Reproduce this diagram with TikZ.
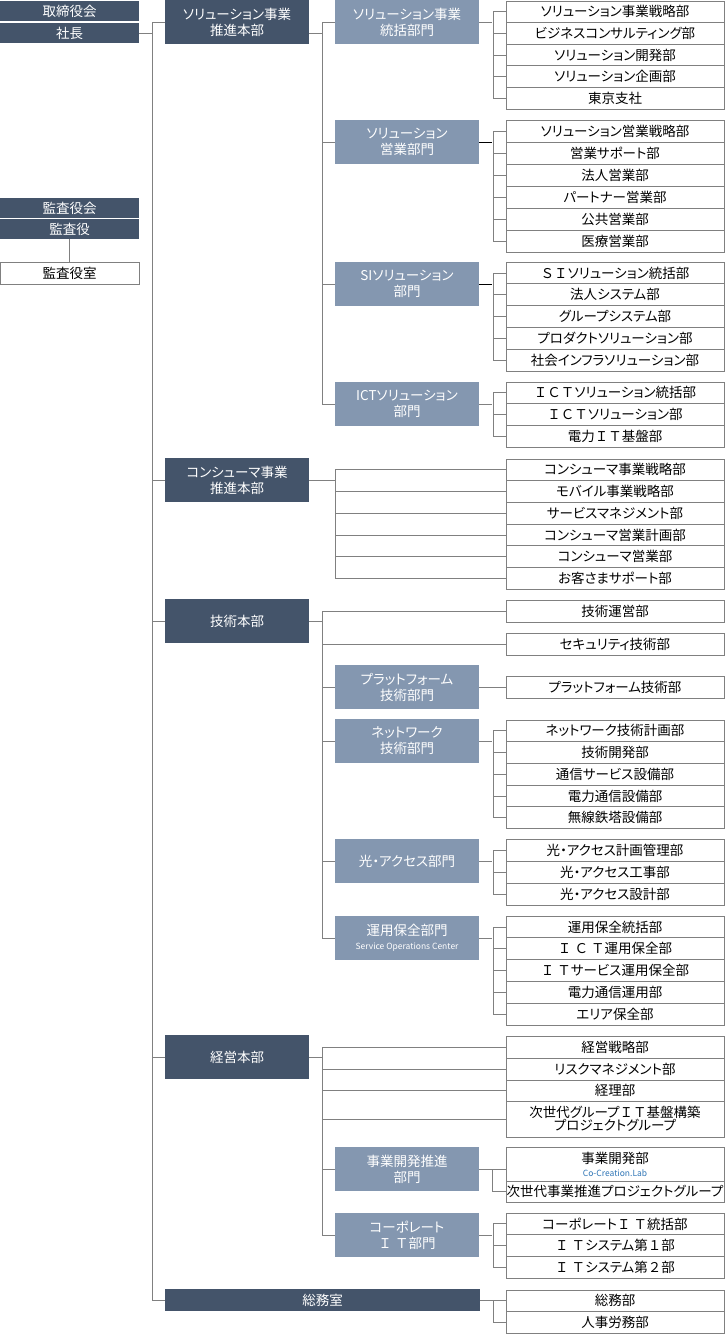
\documentclass[tikz,border=0pt]{standalone}
\usepackage{fontspec}
\setmainfont{Noto Sans CJK JP}[RawFeature=+palt]
\newfontfamily\fwfont{Noto Sans CJK JP}
\definecolor{darkbg}{HTML}{44546A}
\definecolor{lightbg}{HTML}{8497B0}
\definecolor{linegray}{HTML}{808080}
\definecolor{labblue}{HTML}{2E75B6}
\tikzset{
  base/.style={anchor=north west, inner sep=0pt, outer sep=0pt, align=center,
    font=\fontsize{13.5}{16}\selectfont},
  dk/.style={base, fill=darkbg, text=white},
  lt/.style={base, fill=lightbg, text=white},
  wt/.style={base, fill=white, draw=linegray, line width=0.8pt, text=black},
  conn/.style={draw=linegray, line width=0.8pt},
}
\newcommand\obox[7]{\node[#2, minimum width={#5-#3}, minimum height={#6-#4}] (#1) at (#3,#4) {#7};}
\newcommand\rbox[4]{\obox{#1}{wt}{506}{#2}{724}{#3}{#4}}
\newcommand\lbox[3]{\node[lt, minimum width=144, minimum height=44] (#1) at (335,#2) {#3};}
\newcommand\dbox[3]{\node[dk, minimum width=144, minimum height=44] (#1) at (165,#2) {#3};}
\newcommand\brk[5][linegray]{%
  \draw[conn, draw=#1] (#2.east) -- ++(13,0);
  \draw[conn] (#3.west) -- ++(-13,0) -- ([xshift=-13pt]#4.west) -- (#4.west);
  \foreach \n in {#5} {\draw[conn] (\n.west) -- ++(-13,0);}}
\begin{document}
\begin{tikzpicture}[x=1pt, y=-1pt]
\useasboundingbox (0,0) rectangle (725,1335);
% left column
\obox{board}{dk}{0}{1}{139}{21}{取締役会}
\obox{pres}{dk}{0}{23}{139}{43}{社長}
\obox{audb}{dk}{0}{198}{139}{218}{監査役会}
\obox{aud}{dk}{0}{219}{139}{239}{監査役}
\obox{audo}{wt}{0}{262}{139}{284}{監査役室}
\draw[conn] (aud.south) -- (audo.north);
\draw[conn] (pres.east) -- ++(13,0);

% ===== Solution =====
\dbox{D1}{0}{ソリューション事業\\推進本部}
\lbox{L1}{0}{ソリューション事業\\統括部門}
\lbox{L2}{120}{ソリューション\\営業部門}
\lbox{L3}{262}{SIソリューション\\部門}
\lbox{L4}{382}{ICTソリューション\\部門}
\draw[conn] ([yshift=-11pt]D1.east) -- ++(13,0);
\draw[conn] (L1.west) -- ++(-13,0) -- ([xshift=-13pt]L4.west) -- (L4.west);
\foreach \n in {L2,L3} {\draw[conn] (\n.west) -- ++(-13,0);}

\rbox{a1}{1}{22.6}{ソリューション事業戦略部}
\rbox{a2}{22.6}{44.2}{ビジネスコンサルティング部}
\rbox{a3}{44.2}{65.8}{ソリューション開発部}
\rbox{a4}{65.8}{87.4}{ソリューション企画部}
\rbox{a5}{87.4}{109}{東京支社}
\brk{L1}{a1}{a5}{a2,a3,a4}

\rbox{b1}{120}{142}{ソリューション営業戦略部}
\rbox{b2}{142}{164}{営業サポート部}
\rbox{b3}{164}{186}{法人営業部}
\rbox{b4}{186}{208}{パートナー営業部}
\rbox{b5}{208}{230}{公共営業部}
\rbox{b6}{230}{252}{医療営業部}
\brk[black]{L2}{b1}{b6}{b2,b3,b4,b5}

\rbox{s1}{262}{283.8}{{\fwfont ＳＩ}ソリューション統括部}
\rbox{s2}{283.8}{305.6}{法人システム部}
\rbox{s3}{305.6}{327.4}{グループシステム部}
\rbox{s4}{327.4}{349.2}{プロダクトソリューション部}
\rbox{s5}{349.2}{371}{社会インフラソリューション部}
\brk[black]{L3}{s1}{s5}{s2,s3,s4}

\rbox{i1}{382}{403.7}{{\fwfont ＩＣＴ}ソリューション統括部}
\rbox{i2}{403.7}{425.4}{{\fwfont ＩＣＴ}ソリューション部}
\rbox{i3}{425.4}{447}{電力{\fwfont ＩＴ}基盤部}
\brk{L4}{i1}{i3}{i2}

% ===== Consumer =====
\dbox{D2}{458}{コンシューマ事業\\推進本部}
\rbox{k1}{459}{480.7}{コンシューマ事業戦略部}
\rbox{k2}{480.7}{502.4}{モバイル事業戦略部}
\rbox{k3}{502.4}{524.1}{サービスマネジメント部}
\rbox{k4}{524.1}{545.8}{コンシューマ営業計画部}
\rbox{k5}{545.8}{567.5}{コンシューマ営業部}
\rbox{k6}{567.5}{589.2}{お客さまサポート部}
\draw[conn] (D2.east) -- ++(26,0);
\draw[conn] ([xshift=-171pt]k1.west) -- ([xshift=-171pt]k6.west);
\foreach \n in {k1,k2,k3,k4,k5,k6} {\draw[conn] (\n.west) -- ++(-171,0);}

% ===== Technology =====
\dbox{D3}{599}{技術本部}
\draw[conn] (D3.east) -- ++(13,0);
\rbox{c1}{600}{622}{技術運営部}
\rbox{c2}{633}{655}{セキュリティ技術部}
\lbox{L5}{665}{プラットフォーム\\技術部門}
\lbox{L6}{719}{ネットワーク\\技術部門}
\lbox{L7}{839}{光・アクセス部門}
\lbox{L8}{916}{運用保全部門\\[-2pt]{\fontsize{8.5}{10}\selectfont Service Operations Center}}
\draw[conn] (c1.west) -- ++(-184,0) -- ([xshift=-13pt]L8.west) -- (L8.west);
\draw[conn] (c2.west) -- ++(-184,0);
\foreach \n in {L5,L6,L7} {\draw[conn] (\n.west) -- ++(-13,0);}

\rbox{p1}{676}{698}{プラットフォーム技術部}
\draw[conn] (L5.east) -- (p1.west);

\rbox{n1}{720}{741.7}{ネットワーク技術計画部}
\rbox{n2}{741.7}{763.4}{技術開発部}
\rbox{n3}{763.4}{785.1}{通信サービス設備部}
\rbox{n4}{785.1}{806.8}{電力通信設備部}
\rbox{n5}{806.8}{828.5}{無線鉄塔設備部}
\brk{L6}{n1}{n5}{n2,n3,n4}

\rbox{h1}{839}{861}{光・アクセス計画管理部}
\rbox{h2}{861}{883}{光・アクセス工事部}
\rbox{h3}{883}{905}{光・アクセス設計部}
\brk{L7}{h1}{h3}{h2}

\rbox{u1}{916}{937.8}{運用保全統括部}
\rbox{u2}{937.8}{959.6}{{\fwfont Ｉ Ｃ Ｔ}運用保全部}
\rbox{u3}{959.6}{981.4}{{\fwfont Ｉ Ｔ}サービス運用保全部}
\rbox{u4}{981.4}{1003.2}{電力通信運用部}
\rbox{u5}{1003.2}{1025}{エリア保全部}
\brk{L8}{u1}{u5}{u2,u3,u4}

% ===== Management =====
\dbox{D4}{1035}{経営本部}
\draw[conn] (D4.east) -- ++(13,0);
\rbox{e1}{1036}{1058}{経営戦略部}
\rbox{e2}{1058}{1080}{リスクマネジメント部}
\rbox{e3}{1080}{1101}{経理部}
\rbox{e4}{1101}{1137}{次世代グループ{\fwfont ＩＴ}基盤構築\\[-3pt]プロジェクトグループ}
\lbox{L9}{1147}{事業開発推進\\部門}
\lbox{L10}{1213}{コーポレート\\{\fwfont Ｉ Ｔ}部門}
\draw[conn] (e1.west) -- ++(-184,0) -- ([xshift=-13pt]L10.west) -- (L10.west);
\foreach \n in {e2,e3,e4} {\draw[conn] (\n.west) -- ++(-184,0);}
\draw[conn] (L9.west) -- ++(-13,0);

\rbox{f1}{1147}{1181}{事業開発部\\[-3pt]{\fontsize{8.5}{10}\selectfont\color{labblue}Co-Creation.Lab}}
\rbox{f2}{1181}{1202}{次世代事業推進プロジェクトグループ}
\draw[conn] (L9.east) -- (L9.east -| f1.west);
\draw[conn] (L9.east) ++(13,0) |- (f2.west);

\rbox{r1}{1213}{1234.7}{コーポレート{\fwfont Ｉ Ｔ}統括部}
\rbox{r2}{1234.7}{1256.4}{{\fwfont Ｉ Ｔ}システム第{\fwfont １}部}
\rbox{r3}{1256.4}{1278}{{\fwfont Ｉ Ｔ}システム第{\fwfont ２}部}
\brk{L10}{r1}{r3}{r2}

% ===== General affairs =====
\obox{D5}{dk}{165}{1289}{480}{1311}{総務室}
\rbox{g1}{1290}{1311.7}{総務部}
\rbox{g2}{1311.7}{1333.4}{人事労務部}
\brk{D5}{g1}{g2}{g1}

% main spine
\draw[conn] (D1.west) -- ++(-13,0) |- (D5.west);
\foreach \n in {D2,D3,D4} {\draw[conn] (\n.west) -- ++(-13,0);}
\end{tikzpicture}
\end{document}
